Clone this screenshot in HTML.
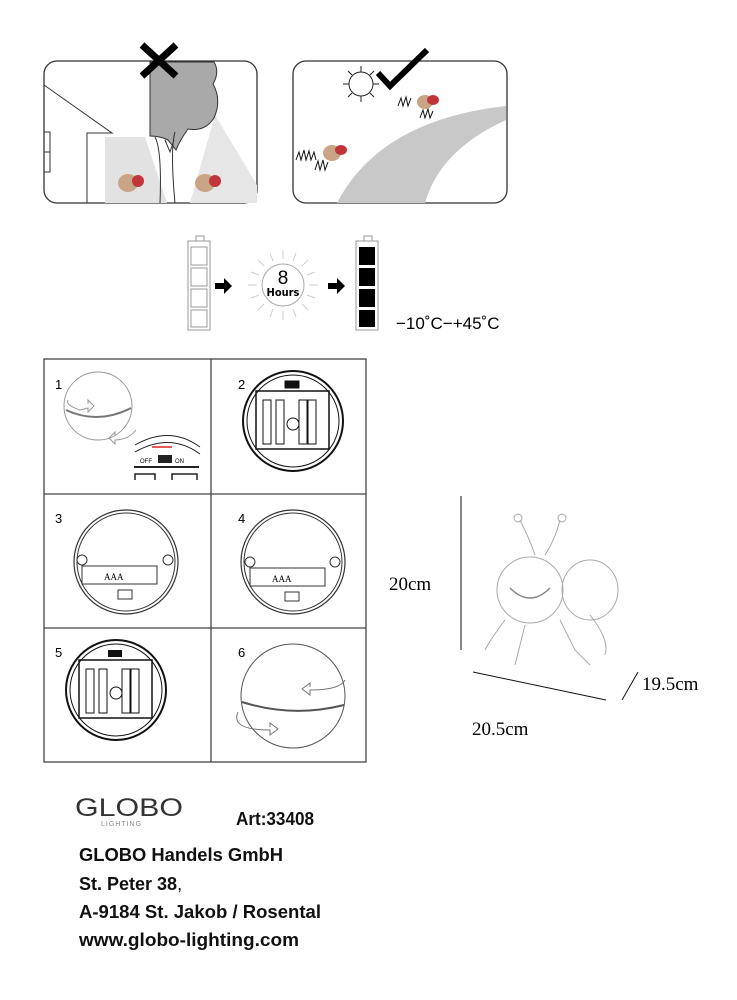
<!DOCTYPE html>
<html><head><meta charset="utf-8"><style>
html,body{margin:0;padding:0;background:#fff;}
svg{display:block;}
.s{font-family:"Liberation Sans",sans-serif;}
.r{font-family:"Liberation Serif",serif;}
</style></head><body>
<svg width="737" height="1000" viewBox="0 0 737 1000" xmlns="http://www.w3.org/2000/svg">
<!-- Left panel -->
<rect x="44" y="61" width="213" height="142" rx="13" fill="#fff" stroke="#333" stroke-width="1.3"/>
<polygon points="105,137 145,137 167,203 105,203" fill="#e2e2e2"/>
<polygon points="215,115 257,185 257,203 190,203" fill="#e6e6e6"/>
<path d="M150,62 L214,62 Q220,72 213,84 Q222,100 214,118 Q205,132 188,129 Q180,140 176,150 L168,140 Q160,136 150,136 Z" fill="#a9a9a9" stroke="#333" stroke-width="1"/>
<path d="M155,137 Q162,150 160,203 M175,132 Q170,150 175,203 M165,140 L170,152 L174,140" fill="none" stroke="#333" stroke-width="1"/>
<path d="M44,85 L112,133 L87,133 L87,203 M44,132 L50,132 L50,172 L44,172 M44,152 L50,152" fill="none" stroke="#333" stroke-width="1"/>
<path d="M142,45 L176,76 M176,45 L142,76" stroke="#000" stroke-width="7"/>
<ellipse cx="128" cy="183" rx="10" ry="9" fill="#c9a585"/><ellipse cx="138" cy="181" rx="6" ry="6" fill="#c0353a"/>
<ellipse cx="205" cy="183" rx="10" ry="9" fill="#c9a585"/><ellipse cx="215" cy="181" rx="6" ry="6" fill="#c0353a"/>
<!-- Right panel -->
<rect x="293" y="61" width="214" height="142" rx="13" fill="#fff" stroke="#333" stroke-width="1.3"/>
<path d="M337,203 Q380,120 506,106 L506,120 Q440,150 425,203 Z" fill="#c8c8c8"/>
<circle cx="361" cy="84" r="12" fill="#fff" stroke="#222" stroke-width="1"/>
<g stroke="#222" stroke-width="1">
<path d="M361,66 V72 M361,96 V102 M343,84 H349 M373,84 H379 M348,71 L352,75 M370,93 L374,97 M374,71 L370,75 M348,97 L352,93"/>
</g>
<path d="M378,73 L390,86 L427,50" fill="none" stroke="#000" stroke-width="6"/>
<path d="M296,160 l3,-8 l2,8 l3,-10 l2,10 l3,-9 l2,9 l3,-8 l2,8 M315,170 l3,-9 l2,9 l3,-10 l2,10 l3,-8 M398,106 l3,-8 l2,8 l3,-9 l2,9 l3,-8 M420,118 l3,-8 l2,8 l3,-9 l2,9 l3,-7" fill="none" stroke="#111" stroke-width="1"/>
<ellipse cx="332" cy="153" rx="9" ry="8" fill="#c9a585"/><ellipse cx="341" cy="150" rx="6" ry="5" fill="#c0353a"/>
<ellipse cx="425" cy="102" rx="8" ry="7" fill="#c9a585"/><ellipse cx="433" cy="100" rx="6" ry="5" fill="#c0353a"/>
<!-- Battery/charging row -->
<g fill="#fff" stroke="#999" stroke-width="1">
<rect x="196" y="236" width="8" height="5"/>
<rect x="188" y="241" width="22" height="89"/>
<rect x="191" y="247" width="16" height="18"/><rect x="191" y="268" width="16" height="18"/>
<rect x="191" y="289" width="16" height="18"/><rect x="191" y="310" width="16" height="17"/>
<rect x="364" y="236" width="8" height="5"/>
<rect x="356" y="241" width="22" height="89"/>
</g>
<g fill="#000"><rect x="359" y="247" width="16" height="18"/><rect x="359" y="268" width="16" height="18"/><rect x="359" y="289" width="16" height="18"/><rect x="359" y="310" width="16" height="17"/></g>
<path d="M215,283 h9 v-5 l8,8 l-8,8 v-5 h-9 z M328,283 h9 v-5 l8,8 l-8,8 v-5 h-9 z" fill="#000"/>
<circle cx="283" cy="285" r="21" fill="#fff" stroke="#aaa" stroke-width="1"/>
<g stroke="#ccc" stroke-width="1">
<path d="M283,250 V259 M283,311 V320 M248,285 H257 M309,285 H318 M258,260 L264,266 M302,304 L308,310 M308,260 L302,266 M258,310 L264,304 M270,253 L273,261 M296,253 L293,261 M270,317 L273,309 M296,317 L293,309 M251,272 L259,275 M315,272 L307,275 M251,298 L259,295 M315,298 L307,295"/>
</g>
<text class="s" x="283" y="284" font-size="19" text-anchor="middle">8</text>
<text x="283" y="296" font-size="11" font-weight="bold" text-anchor="middle" style="font-family:'DejaVu Sans Condensed',sans-serif">Hours</text>
<text class="s" x="396" y="329" font-size="17">−10˚C−+45˚C</text>
<!-- Instruction grid -->
<g fill="none" stroke="#444" stroke-width="1.3">
<rect x="44" y="359" width="322" height="403"/>
<path d="M211,359 V762 M44,494 H366 M44,628 H366"/>
</g>
<g font-size="13" class="s">
<text class="s" x="55" y="389">1</text><text class="s" x="238" y="389">2</text>
<text class="s" x="55" y="523">3</text><text class="s" x="238" y="523">4</text>
<text class="s" x="55" y="657">5</text><text class="s" x="238" y="657">6</text>
</g>
<!-- 1 -->
<circle cx="98" cy="406" r="34" fill="#fff" stroke="#999"/>
<path d="M66,410 Q98,425 131,408" fill="none" stroke="#777" stroke-width="2"/>
<path d="M68,400 Q65,405 80,410 L88,408 l0,4 l6,-6 l-6,-6 l0,4" fill="none" stroke="#999"/>
<path d="M136,430 Q128,440 115,440 l0,4 l-6,-6 l6,-6 l0,4" fill="none" stroke="#999"/>
<path d="M135,445 Q170,425 200,447 M135,452 Q170,432 200,454" fill="none" stroke="#222" stroke-width="1"/>
<path d="M152,447 L172,447" stroke="#d22" stroke-width="1.5"/>
<rect x="158" y="455" width="14" height="8" fill="#222"/>
<text class="s" x="140" y="463" font-size="6">OFF</text><text class="s" x="175" y="463" font-size="6">ON</text>
<path d="M134,467 H199" stroke="#222" stroke-width="2"/>
<path d="M135,480 v-6 h20 v6 M172,480 v-6 h25 v6" fill="none" stroke="#222" stroke-width="1.5"/>
<!-- 2 -->
<g fill="none" stroke="#111">
<circle cx="293" cy="421" r="50" stroke-width="2"/>
<circle cx="293" cy="421" r="46" stroke-width="1"/>
<rect x="256" y="391" width="73" height="58" stroke-width="1.5"/>
<rect x="263" y="400" width="8" height="44"/><rect x="276" y="400" width="8" height="44"/>
<rect x="299" y="400" width="8" height="44"/><rect x="308" y="400" width="8" height="44"/>
<circle cx="293" cy="424" r="6"/>
<rect x="285" y="381" width="14" height="7" fill="#111"/>
</g>
<!-- 5 -->
<g transform="translate(-177,269)">
<circle cx="293" cy="421" r="50" fill="none" stroke="#111" stroke-width="2"/>
<circle cx="293" cy="421" r="46" fill="none" stroke="#111"/>
<rect x="256" y="391" width="73" height="58" fill="none" stroke="#111" stroke-width="1.5"/>
<g fill="none" stroke="#111"><rect x="263" y="400" width="8" height="44"/><rect x="276" y="400" width="8" height="44"/>
<rect x="299" y="400" width="8" height="44"/><rect x="308" y="400" width="8" height="44"/><circle cx="293" cy="424" r="6"/></g>
<rect x="285" y="381" width="14" height="7" fill="#111"/>
</g>
<!-- 3 and 4 -->
<g fill="none" stroke="#333">
<circle cx="126" cy="562" r="52" stroke-width="1.2"/><circle cx="126" cy="562" r="49"/>
<rect x="82" y="566" width="75" height="18"/><rect x="118" y="590" width="14" height="9"/>
<circle cx="82" cy="560" r="5"/><circle cx="168" cy="560" r="5"/>
<circle cx="293" cy="562" r="52" stroke-width="1.2"/><circle cx="293" cy="562" r="49"/>
<rect x="250" y="568" width="75" height="18"/><rect x="285" y="592" width="14" height="9"/>
<circle cx="250" cy="562" r="5"/><circle cx="335" cy="562" r="5"/>
</g>
<text class="r" x="104" y="580" font-size="9">AAA</text>
<text class="r" x="272" y="582" font-size="9">AAA</text>
<!-- 6 -->
<circle cx="293" cy="696" r="52" fill="#fff" stroke="#555"/>
<path d="M242,702 Q293,718 344,705" fill="none" stroke="#555" stroke-width="2"/>
<path d="M345,680 Q340,690 310,690 l0,5 l-8,-6 l8,-6 l0,4" fill="none" stroke="#777"/>
<path d="M238,712 Q230,730 270,730 l0,5 l8,-6 l-8,-6 l0,4" fill="none" stroke="#777"/>
<!-- Ladybug product -->
<g fill="none" stroke="#aaa" stroke-width="1">
<circle cx="530" cy="590" r="33"/>
<ellipse cx="590" cy="590" rx="28" ry="30"/>
<path d="M520,520 Q530,540 535,555 M560,520 Q555,540 545,555"/>
<circle cx="518" cy="518" r="4"/><circle cx="562" cy="518" r="4"/>
<path d="M510,588 Q530,608 550,588" stroke="#888" stroke-width="1.5"/>
<path d="M505,620 Q490,640 485,650 M525,625 L515,665 M560,620 L575,650 L590,665 M590,615 Q610,640 605,655"/>
</g>
<!-- dimensions -->
<g stroke="#111" stroke-width="1">
<path d="M461,496 V650"/>
<path d="M473,672 L606,700"/>
<path d="M622,700 L638,672"/>
</g>
<text class="r" x="389" y="590" font-size="19">20cm</text>
<text class="r" x="472" y="735" font-size="19">20.5cm</text>
<text class="r" x="642" y="690" font-size="19">19.5cm</text>
<!-- footer -->
<text class="s" x="75" y="816" font-size="25" fill="#333" textLength="108" lengthAdjust="spacingAndGlyphs">GLOBO</text>
<text class="s" x="101" y="826" font-size="7" fill="#888" letter-spacing="1">LIGHTING</text>
<g font-weight="bold" font-size="18" fill="#111">
<text class="s" x="236" y="825" textLength="78" lengthAdjust="spacingAndGlyphs">Art:33408</text>
<text class="s" x="79" y="861" textLength="204" lengthAdjust="spacingAndGlyphs">GLOBO Handels GmbH</text>
<text class="s" x="79" y="890">St. Peter 38<tspan font-weight="normal">,</tspan></text>
<text class="s" x="79" y="918" textLength="242" lengthAdjust="spacingAndGlyphs">A-9184 St. Jakob / Rosental</text>
<text class="s" x="79" y="946" textLength="220" lengthAdjust="spacingAndGlyphs">www.globo-lighting.com</text>
</g>
</svg>
</body></html>
